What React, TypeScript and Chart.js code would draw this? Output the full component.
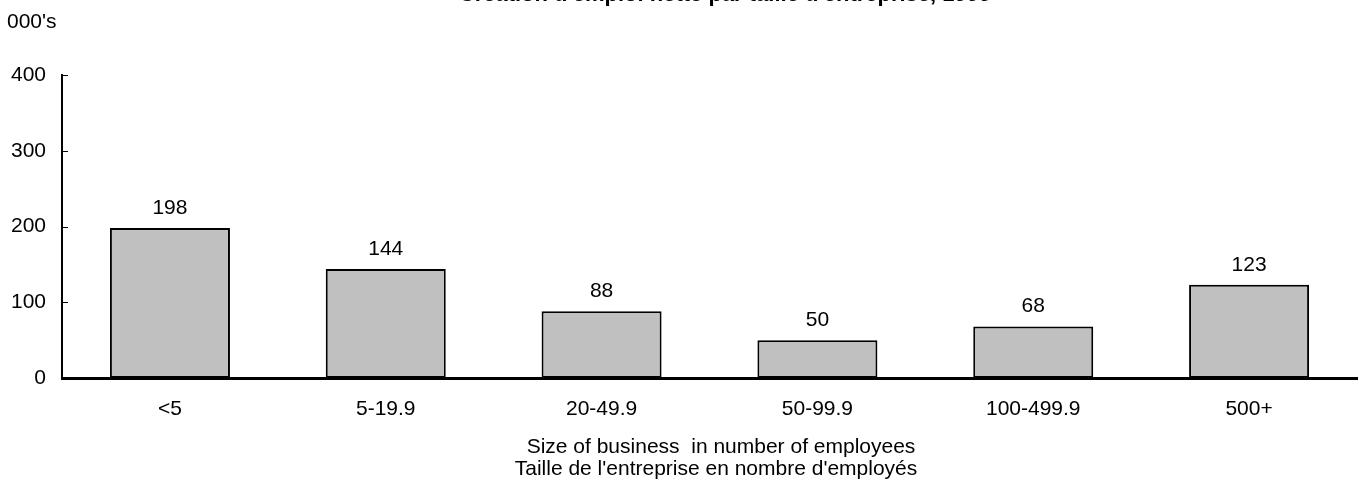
import React, { useEffect, useRef } from "react";
import { Chart, registerables } from "chart.js";

Chart.register(...registerables);

const TITLE = "Création d'emploi nette par taille d'entreprise, 1999";
const UNIT_LABEL = "000's";
const categories = ["<5", "5-19.9", "20-49.9", "50-99.9", "100-499.9", "500+"];
const jobs = [198, 144, 88, 50, 68, 123];
const xAxisTitle = ["Size of business  in number of employees", "Taille de l'entreprise en nombre d'employés"];
const yTicks = [0, 100, 200, 300, 400];

const FONT = "'Liberation Sans', Arial, sans-serif";
const FS = 21;

const decorPlugin = {
  id: "decor",
  afterDraw(chart: any) {
    const ctx = chart.ctx;
    const area = chart.chartArea;
    const ys = chart.scales.y;
    ctx.save();
    // inward tick marks
    ctx.strokeStyle = "#000";
    ctx.lineWidth = 1;
    yTicks.forEach((v) => {
      const py = Math.round(ys.getPixelForValue(v)) + 0.5;
      ctx.beginPath();
      ctx.moveTo(area.left, py);
      ctx.lineTo(area.left + 6, py);
      ctx.stroke();
    });
    // value labels
    ctx.fillStyle = "#000";
    ctx.font = `${FS}px ${FONT}`;
    ctx.textAlign = "center";
    ctx.textBaseline = "middle";
    const meta = chart.getDatasetMeta(0);
    meta.data.forEach((el: any, i: number) => {
      ctx.fillText(String(jobs[i]), el.x, el.y - 20);
    });
    // x axis title (two lines)
    ctx.fillText(xAxisTitle[0], 721, 447);
    ctx.fillText(xAxisTitle[1], 716, 469);
    // unit label
    ctx.textAlign = "left";
    ctx.fillText(UNIT_LABEL, 7, 22);
    // title (clipped at top)
    ctx.font = `bold 22px ${FONT}`;
    ctx.textAlign = "center";
    ctx.textBaseline = "alphabetic";
    ctx.fillText(TITLE, 725, 0.5);
    ctx.restore();
  },
};

export default function App() {
  const ref = useRef<HTMLCanvasElement>(null);
  useEffect(() => {
    if (!ref.current) return;
    const chart = new Chart(ref.current, {
      type: "bar",
      data: {
        labels: categories,
        datasets: [
          {
            data: jobs,
            backgroundColor: "#c0c0c0",
            borderColor: "#000",
            borderWidth: 2,
            borderSkipped: false,
            barPercentage: 0.556,
            categoryPercentage: 1,
          },
        ],
      },
      options: {
        responsive: false,
        animation: false,
        layout: { padding: { left: 0, right: 2, top: 75, bottom: 0 } },
        plugins: { legend: { display: false }, tooltip: { enabled: false }, title: { display: false } },
        scales: {
          x: {
            grid: { display: false, drawTicks: false },
            border: { display: true, color: "#000", width: 3 },
            ticks: { color: "#000", font: { family: FONT, size: FS }, padding: 19, maxRotation: 0 },
            title: { display: false },
            afterFit: (s: any) => {
              s.height = 107;
            },
          },
          y: {
            min: 0,
            max: 400,
            grid: { display: false, drawTicks: false },
            border: { display: true, color: "#000", width: 2 },
            ticks: { stepSize: 100, color: "#000", font: { family: FONT, size: FS }, padding: 16 },
            afterFit: (s: any) => {
              s.width = 62;
            },
          },
        },
      },
      plugins: [decorPlugin],
    });
    return () => chart.destroy();
  }, []);
  return (
    <div style={{ position: "fixed", left: 0, top: 0, width: 1359, height: 485, background: "#fff" }}>
      <canvas ref={ref} width={1359} height={485} />
    </div>
  );
}
